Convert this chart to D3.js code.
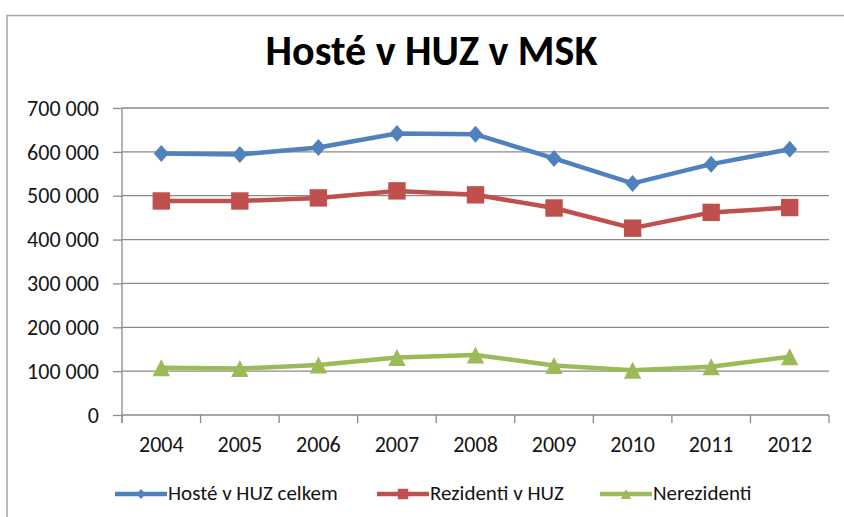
<!DOCTYPE html>
<html>
<head>
<meta charset="utf-8">
<script src="https://cdn.jsdelivr.net/npm/d3@7"></script>
<style>
  html, body { margin: 0; padding: 0; background: #fff; }
  svg { display: block; font-family: Carlito, "Liberation Sans", Arial, sans-serif; }
  svg text { font-family: Carlito, "Liberation Sans", Arial, sans-serif; }
</style>
</head>
<body>
<svg id="chart" width="844" height="517"></svg>
<script>
// Years on the category axis
const categories = ["2004", "2005", "2006", "2007", "2008", "2009", "2010", "2011", "2012"];
// Guests in collective accommodation (HUZ), Moravian-Silesian Region
const hosteCelkem = [596000, 594000, 610000, 642000, 640000, 585000, 528000, 572000, 606000];
const rezidenti   = [488000, 488000, 495000, 511000, 502000, 472000, 426000, 462000, 473000];
const nerezidenti = [108000, 106000, 114000, 131000, 137000, 113000, 102000, 110000, 133000];
// Value-axis ticks
const yTicks = [0, 100000, 200000, 300000, 400000, 500000, 600000, 700000];
const seriesNames = ["Hosté v HUZ celkem", "Rezidenti v HUZ", "Nerezidenti"];
const title = "Hosté v HUZ v MSK";

const series = [
  { name: seriesNames[0], values: hosteCelkem, color: "#4F81BD", marker: "diamond" },
  { name: seriesNames[1], values: rezidenti,   color: "#C0504D", marker: "square" },
  { name: seriesNames[2], values: nerezidenti, color: "#9BBB59", marker: "triangle" }
];

const svg = d3.select("#chart");
const plot = { left: 122, right: 829, top: 108, bottom: 415 };
const gridColor = "#8a8a8a";
const textColor = "#141414";

const x = d3.scaleBand().domain(categories).range([plot.left, plot.right]).padding(0);
const y = d3.scaleLinear().domain([0, 700000]).range([plot.bottom, plot.top]);
const fmt = d3.formatLocale({ decimal: ",", thousands: " ", grouping: [3], currency: ["", ""] }).format(",d");

// Chart frame (top and left edges visible)
svg.append("line").attr("x1", 6.5).attr("x2", 844).attr("y1", 15.5).attr("y2", 15.5)
  .attr("stroke", "#a6a6a6").attr("stroke-width", 1.5);
svg.append("line").attr("x1", 7).attr("x2", 7).attr("y1", 15.5).attr("y2", 517)
  .attr("stroke", "#a6a6a6").attr("stroke-width", 1.5);

// Title
svg.append("text")
  .attr("x", 431.5)
  .attr("y", 65)
  .attr("text-anchor", "middle")
  .attr("font-size", 42)
  .attr("font-weight", "bold")
  .attr("fill", "#000")
  .text(title);

// Horizontal gridlines
svg.append("g").selectAll("line").data(yTicks.filter(t => t > 0)).join("line")
  .attr("x1", plot.left).attr("x2", plot.right)
  .attr("y1", d => y(d)).attr("y2", d => y(d))
  .attr("stroke", gridColor).attr("stroke-width", 1.3);

// Value axis
const yAxis = svg.append("g")
  .attr("transform", `translate(${plot.left},0)`)
  .call(d3.axisLeft(y).tickValues(yTicks).tickFormat(fmt).tickSize(9).tickPadding(14))
  .attr("font-family", null).attr("font-size", 22);
yAxis.select(".domain").attr("stroke", gridColor).attr("stroke-width", 1.3)
  .attr("d", `M0,${plot.top}V${plot.bottom + 8}`);
yAxis.selectAll(".tick line").attr("stroke", gridColor).attr("stroke-width", 1.3);
yAxis.selectAll(".tick text").style("font-size", "22px").attr("fill", textColor)
  .attr("dy", "0.33em");

// Category axis: labels centred in bands, ticks at band edges
const xAxis = svg.append("g")
  .attr("transform", `translate(0,${plot.bottom})`)
  .call(d3.axisBottom(x).tickSize(0))
  .attr("font-family", null).attr("font-size", 22);
xAxis.select(".domain").attr("stroke", gridColor).attr("stroke-width", 1.3)
  .attr("d", `M${plot.left},0H${plot.right}`);
xAxis.selectAll(".tick text").style("font-size", "22px").attr("fill", textColor)
  .attr("y", 37).attr("dy", null);
const edges = categories.map(c => x(c)).concat([x(categories[categories.length - 1]) + x.bandwidth()]);
svg.append("g").selectAll("line").data(edges).join("line")
  .attr("x1", d => d).attr("x2", d => d)
  .attr("y1", plot.bottom).attr("y2", plot.bottom + 8)
  .attr("stroke", gridColor).attr("stroke-width", 1.3);

// Marker shapes
function markerPath(type, s) {
  if (type === "diamond") {
    const w = 7.5 * s, h = 8.5 * s;
    return `M0,${-h}L${w},0L0,${h}L${-w},0Z`;
  }
  if (type === "square") {
    const a = 8.7 * s;
    return `M${-a},${-a}H${a}V${a}H${-a}Z`;
  }
  const w = 8.7 * s, h = 8.5 * s;
  return `M0,${-h}L${w},${h}L${-w},${h}Z`;
}

const cx = c => x(c) + x.bandwidth() / 2;
const line = d3.line().x((d, i) => cx(categories[i])).y(d => y(d));

const gSeries = svg.append("g").selectAll("g").data(series).join("g");
gSeries.append("path")
  .attr("d", d => line(d.values))
  .attr("fill", "none")
  .attr("stroke", d => d.color)
  .attr("stroke-width", 4.5)
  .attr("stroke-linejoin", "round");
gSeries.each(function (s) {
  d3.select(this).selectAll("path.mk").data(s.values).join("path")
    .attr("class", "mk")
    .attr("transform", (v, i) => `translate(${cx(categories[i])},${y(v)})`)
    .attr("d", markerPath(s.marker, 1))
    .attr("fill", s.color);
});

// Legend: one entry per series, in a single row below the axis
const legendX = [115, 377, 600];
const ly = 494;
const legend = svg.append("g");
series.forEach((s, i) => {
  const lx = legendX[i];
  const item = legend.append("g");
  item.append("line").attr("x1", lx).attr("x2", lx + 52).attr("y1", ly).attr("y2", ly)
    .attr("stroke", s.color).attr("stroke-width", 4.5);
  item.append("path").attr("transform", `translate(${lx + 26},${ly})`)
    .attr("d", markerPath(s.marker, 0.6)).attr("fill", s.color);
  item.append("text").attr("x", lx + 53).attr("y", 500)
    .attr("font-size", 21).attr("fill", textColor).text(s.name);
});
</script>
</body>
</html>
